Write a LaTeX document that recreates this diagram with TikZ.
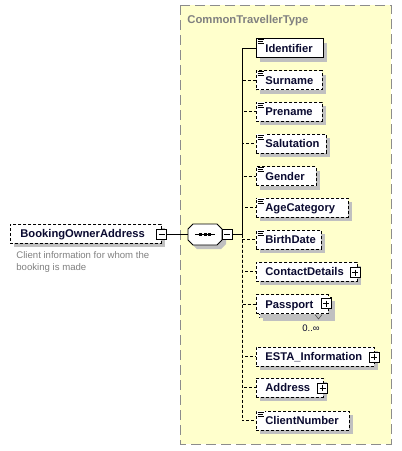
\documentclass[tikz,border=0pt]{standalone}
\usepackage{fontspec}
\setmainfont{Liberation Sans}
\usetikzlibrary{shadows}
\definecolor{boxyellow}{HTML}{FFFFCC}
\definecolor{framegray}{HTML}{8C8C8C}
\definecolor{shadegray}{HTML}{C0C0C0}
\definecolor{labelgray}{HTML}{808080}
\definecolor{nametext}{HTML}{0A0A30}
\begin{document}
\begin{tikzpicture}[x=1pt,y=-1pt, line width=0.8pt,
  shadowed/.style={drop shadow={shadow xshift=4pt,shadow yshift=-4pt,fill=shadegray,opacity=1}},
  elem/.style={shadowed, draw=black, fill=white, anchor=west, minimum height=19pt,
    inner xsep=0pt, inner ysep=0pt, align=left, text height=9.6pt, text depth=1.4pt,
    font=\fontsize{11.2}{13}\selectfont\bfseries, text=nametext},
  optelem/.style={elem, dash pattern=on 3pt off 2pt},
  optline/.style={dash pattern=on 3pt off 2pt},
  pmbox/.style={draw=black, fill=white, solid, minimum width=10pt, minimum height=10pt, inner sep=0pt},
  minusbox/.style={pmbox, path picture={\draw[line width=0.8pt] ([xshift=2pt]path picture bounding box.west) -- ([xshift=-2pt]path picture bounding box.east);}},
  plusbox/.style={pmbox, path picture={\draw[line width=0.8pt] ([xshift=2pt]path picture bounding box.west) -- ([xshift=-2pt]path picture bounding box.east); \draw[line width=0.8pt] ([yshift=-2pt]path picture bounding box.north) -- ([yshift=2pt]path picture bounding box.south);}},
  elicon/.pic={\fill[white] (0.8,0.8) rectangle (8.5,6.5); \draw[solid,line width=0.7pt] (1.5,1.5)--(8,1.5) (1.5,3.5)--(6.5,3.5) (1.5,5.5)--(7.5,5.5);},
]
\useasboundingbox (0,0) rectangle (402,451);
% type frame
\draw[fill=boxyellow, draw=framegray, line width=1pt, dash pattern=on 10pt off 5pt] (180,5) rectangle (391,444);
\node[anchor=base west, inner sep=0pt, text=labelgray, font=\fontsize{11.3}{13}\selectfont\bfseries] (typename) at (187,23.5) {CommonTravellerType};

% root element
\node[optelem, text width=151pt] (boa) at (10,233.5) {\hspace*{10pt}BookingOwnerAddress};
\node[minusbox] (boam) at (161.5,234.5) {};
\node[anchor=north west, inner sep=0pt, align=left, text=labelgray, font=\fontsize{9.6}{12}\selectfont] (desc) at (16,251.5) {Client information for whom the\\booking is made};

% sequence compositor
\filldraw[fill=white, draw=black, shadowed] (193,224) -- (217,224) -- (222,229) -- (222,240) -- (217,245) -- (193,245) -- (188,240) -- (188,229) -- cycle;
\node[minimum width=34pt, minimum height=21pt, inner sep=0pt] (seq) at (205,234.5) {};
\draw (195,234.5) -- (215,234.5);
\foreach \dx in {-4.5,0,4.5} \fill ([xshift=\dx pt]seq.center) +(-1.5,-1.5) rectangle +(1.5,1.5);
\node[minusbox] (seqm) at (227,234.5) {};
\coordinate (spine) at (242,234.5);

% passport back copy
\filldraw[fill=white, draw=black, optline, shadowed] (259,297) rectangle (331,317);

% children
\node[elem, text width=67pt] (idn) at (256,48) {\hspace*{9pt}Identifier};
\node[optelem, text width=66pt] (sur) at (256,80) {\hspace*{9pt}Surname};
\node[optelem, text width=66pt] (pre) at (256,111.5) {\hspace*{9pt}Prename};
\node[optelem, text width=70pt] (sal) at (256,143.5) {\hspace*{9pt}Salutation};
\node[optelem, text width=60pt] (gen) at (256,176) {\hspace*{9pt}Gender};
\node[optelem, text width=92pt] (age) at (256,207.5) {\hspace*{9pt}AgeCategory};
\node[optelem, text width=65pt] (bir) at (256,239.5) {\hspace*{9pt}BirthDate};
\node[optelem, text width=101pt] (con) at (256,271.5) {\hspace*{9pt}ContactDetails};
\node[optelem, text width=72pt, drop shadow={opacity=0}] (pas) at (256,304) {\hspace*{9pt}Passport};
\node[optelem, text width=118pt] (est) at (256,356.5) {\hspace*{9pt}ESTA\_Information};
\node[optelem, text width=67pt] (adr) at (256,387.5) {\hspace*{9pt}Address};
\node[optelem, text width=93pt] (cli) at (256,420.5) {\hspace*{9pt}ClientNumber};

\foreach \n in {idn,sur,pre,sal,gen,age,bir,cli} \pic at (\n.north west) {elicon};

\node[plusbox] (conp) at (355,272.5) {};
\node[plusbox] (pasp) at (326,303.5) {};
\node[plusbox] (estp) at (374,357) {};
\node[plusbox] (adrp) at (322.5,388) {};

% multiplicity
\draw[line width=0.6pt, draw=black!70] (315,314.5) -- (318.5,319) -- (322,314.5);
\node[inner sep=0pt, font=\fontsize{9.5}{11}\selectfont, text=nametext] (mult) at (311,328) {0..\symbol{"221E}};

% connectors
\draw (boam.east) -- (seq.west);
\draw (seqm.east) -- (spine);
\draw (spine) |- (idn.west);
\foreach \n in {sur,pre,sal,gen,age} \draw[optline] (spine) |- (\n.west);
\foreach \n in {bir,con,pas,est,adr,cli} \draw[optline] (spine) |- (\n.west);
\end{tikzpicture}
\end{document}
